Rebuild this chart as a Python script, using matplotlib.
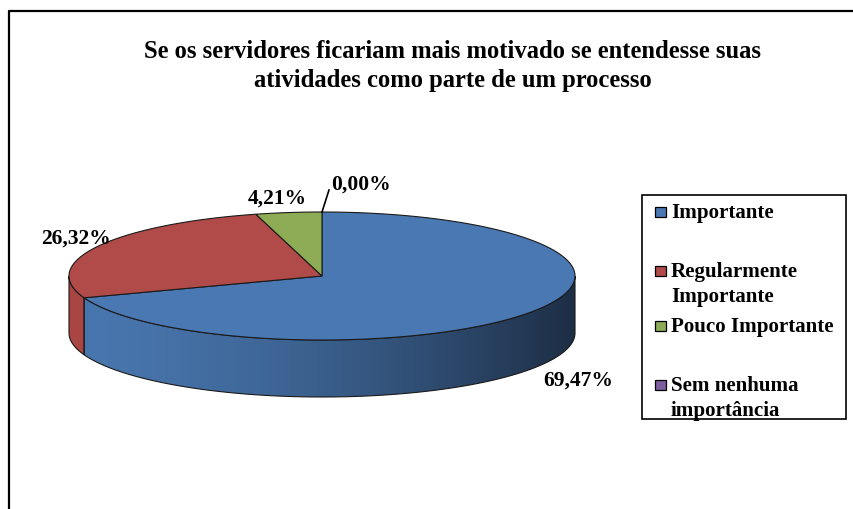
import numpy as np
import matplotlib.pyplot as plt
from matplotlib.patches import Polygon, Rectangle
from matplotlib.colors import LinearSegmentedColormap

categorias = ['Importante', 'Regularmente\nImportante', 'Pouco Importante', 'Sem nenhuma\nimportância']
valores = [69.47, 26.32, 4.21, 0.00]
rotulos = ['69,47%', '26,32%', '4,21%', '0,00%']
cores = ['#4a78b2', '#b04b49', '#8dac55', '#7d5fa0']
cores_lado = [('#4876ae', '#1d2e45'), ('#a94644', '#a94644'), ('#86a350', '#86a350'), ('#7d5fa0', '#7d5fa0')]
titulo = 'Se os servidores ficariam mais motivado se entendesse suas\natividades como parte de um processo'

plt.rcParams['font.family'] = ['Liberation Serif', 'DejaVu Serif']
plt.rcParams['font.weight'] = 'bold'

fig = plt.figure(figsize=(8.54, 5.10), dpi=100)
ax = fig.add_axes([0, 0, 1, 1])
ax.set_xlim(0, 854)
ax.set_ylim(510, 0)
ax.axis('off')

# moldura (cortada a direita e embaixo)
ax.plot([9, 9, 860], [520, 12, 12], color='black', lw=1.6, solid_capstyle='projecting')

cx, cy, rx, ry, prof = 322, 277, 253, 64, 57

def ponto(t, dy=0):
    t = np.radians(t)
    return cx + rx * np.sin(t), cy - ry * np.cos(t) + dy

angulos = np.concatenate([[0], np.cumsum(valores) / sum(valores) * 360])

# lateral (parte da frente, 90..270 graus)
for i in range(len(valores)):
    a0, a1 = max(angulos[i], 90), min(angulos[i + 1], 270)
    if a1 <= a0:
        continue
    t = np.linspace(a0, a1, 200)
    xs, ys = ponto(t)
    xb, yb = ponto(t[::-1], prof)
    verts = np.column_stack([np.concatenate([xs, xb]), np.concatenate([ys, yb])])
    poly = Polygon(verts, closed=True, facecolor='none', edgecolor='#1a1a1a', lw=0.8, zorder=2)
    ax.add_patch(poly)
    cmap = LinearSegmentedColormap.from_list('lado%d' % i, cores_lado[i])
    xmin = verts[:, 0].min()
    grad = np.linspace(0, 1, 256).reshape(1, -1)
    grad = grad ** 1.6 if i == 0 else grad
    ext_x0 = cx - rx if i == 0 else xmin
    im = ax.imshow(grad, cmap=cmap, extent=[ext_x0, cx + rx, verts[:, 1].max(), verts[:, 1].min()],
                   aspect='auto', zorder=1, interpolation='bilinear')
    im.set_clip_path(poly)
    ax.set_xlim(0, 854)
    ax.set_ylim(510, 0)

# topo
for i in range(len(valores)):
    if valores[i] <= 0:
        continue
    t = np.linspace(angulos[i], angulos[i + 1], 200)
    xs, ys = ponto(t)
    verts = np.column_stack([np.concatenate([[cx], xs]), np.concatenate([[cy], ys])])
    ax.add_patch(Polygon(verts, closed=True, facecolor=cores[i], edgecolor='#1a1a1a', lw=0.8, zorder=3))

# rotulos
fs = 15.5
ax.text(578, 381, rotulos[0], fontsize=fs, ha='center', va='center', zorder=5)
ax.text(76, 239, rotulos[1], fontsize=fs, ha='center', va='center', zorder=5)
ax.text(277, 199, rotulos[2], fontsize=fs, ha='center', va='center', zorder=5)
ax.text(361, 185, rotulos[3], fontsize=fs, ha='center', va='center', zorder=5)
x0, y0 = ponto(angulos[3])
ax.plot([x0, x0 + 7], [y0, y0 - 22], color='black', lw=1.2, zorder=5)

ax.text(453, 66, titulo, fontsize=17.7, ha='center', va='center', linespacing=1.3)

# legenda
ax.add_patch(Rectangle((642, 196), 204, 224, facecolor='white', edgecolor='black', lw=1.2, zorder=4))
ys_leg = [213, 272, 327, 386]
for cor, nome, yl in zip(cores, categorias, ys_leg):
    ax.add_patch(Rectangle((655, yl - 5), 11, 10, facecolor=cor, edgecolor='black', lw=0.9, zorder=5))
    ax.text(671, yl - 10, nome, fontsize=15.1, ha='left', va='top', zorder=5, linespacing=1.33)

fig.savefig('out.png', dpi=100)
